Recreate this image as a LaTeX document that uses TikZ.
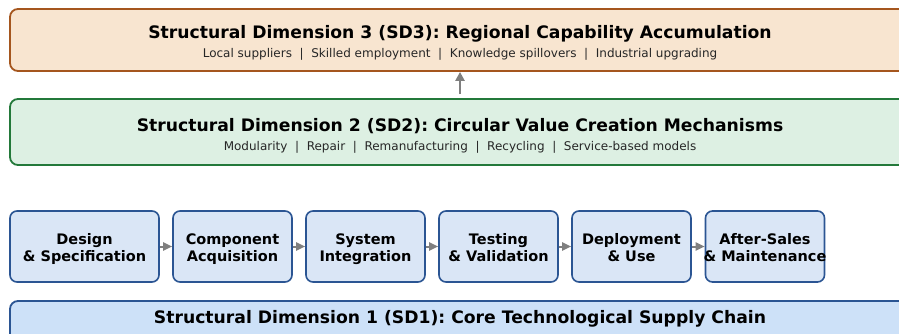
\documentclass[tikz,border=0pt]{standalone}
\usepackage{fontspec}
\setmainfont{DejaVu Sans}
\usetikzlibrary{arrows.meta}
\definecolor{sdthreefill}{HTML}{F8E5D0}
\definecolor{sdthreedraw}{HTML}{A5561E}
\definecolor{sdtwofill}{HTML}{DDF0E3}
\definecolor{sdtwodraw}{HTML}{23793A}
\definecolor{stagefill}{HTML}{DAE6F6}
\definecolor{stagedraw}{HTML}{2B5593}
\definecolor{sdonefill}{HTML}{CDE1F8}
\definecolor{arrowgray}{HTML}{7F7F7F}
\tikzset{
  bigbox/.style={rectangle, rounded corners=8pt, line width=1.8pt, minimum width=900pt, inner sep=0pt},
  stagebox/.style={rectangle, rounded corners=7pt, line width=1.6pt, draw=stagedraw, fill=stagefill,
    minimum height=71pt, inner sep=0pt},
  stagetext/.style={inner sep=0pt, align=center, font=\fontsize{14.5}{16.7}\selectfont\bfseries},
  titletext/.style={font=\fontsize{17.2}{20}\selectfont\bfseries, inner sep=0pt},
  subtext/.style={font=\fontsize{12}{14}\selectfont, inner sep=0pt, text=black!85},
  flow/.style={draw=arrowgray, line width=2.3pt, -{Triangle[length=9pt,width=9pt]}, color=arrowgray},
  stepflow/.style={draw=arrowgray, line width=2pt, -{Triangle[length=9pt,width=8pt]}, color=arrowgray},
}
\begin{document}
\frenchspacing
\begin{tikzpicture}[x=1pt,y=-1pt]
\useasboundingbox (0,0) rectangle (899,334);
\clip (0,0) rectangle (899,334);
% SD3
\node[bigbox, draw=sdthreedraw, fill=sdthreefill, minimum height=62pt] (sd3) at (460,40) {};
\node[titletext] (sd3t) at (460,34) {Structural Dimension 3 (SD3): Regional Capability Accumulation};
\node[subtext] (sd3s) at (460,54) {Local suppliers~~|~~Skilled employment~~|~~Knowledge spillovers~~|~~Industrial upgrading};
% SD2
\node[bigbox, draw=sdtwodraw, fill=sdtwofill, minimum height=66pt] (sd2) at (460,132) {};
\node[titletext] (sd2t) at (460,126) {Structural Dimension 2 (SD2): Circular Value Creation Mechanisms};
\node[subtext] (sd2s) at (460,147) {Modularity~~|~~Repair~~|~~Remanufacturing~~|~~Recycling~~|~~Service-based models};
\draw[flow, shorten <=4pt] (sd2.north) -- (sd3.south);
% stages
\node[stagebox, minimum width=149pt] (s1) at (84.5,246.5) {};
\node[stagebox, minimum width=119pt] (s2) at (232.5,246.5) {};
\node[stagebox, minimum width=119pt] (s3) at (365.5,246.5) {};
\node[stagebox, minimum width=119pt] (s4) at (498.5,246.5) {};
\node[stagebox, minimum width=119pt] (s5) at (631.5,246.5) {};
\node[stagebox, minimum width=119pt] (s6) at (765,246.5) {};
\node[stagetext] (s1t) at (84.5,250) {\strut Design\\\strut\& Specification};
\node[stagetext] (s2t) at (232.5,250) {\strut Component\\\strut Acquisition};
\node[stagetext] (s3t) at (365.5,250) {\strut System\\\strut Integration};
\node[stagetext] (s4t) at (498.5,250) {\strut Testing\\\strut\& Validation};
\node[stagetext] (s5t) at (631.5,250) {\strut Deployment\\\strut\& Use};
\node[stagetext] (s6t) at (765,250) {\strut After-Sales\\\strut\& Maintenance};
\draw[stepflow] (s1.east) -- (s2.west);
\draw[stepflow] (s2.east) -- (s3.west);
\draw[stepflow] (s3.east) -- (s4.west);
\draw[stepflow] (s4.east) -- (s5.west);
\draw[stepflow] (s5.east) -- (s6.west);
% SD1
\node[bigbox, draw=stagedraw, fill=sdonefill, minimum height=60pt] (sd1) at (460,331) {};
\node[titletext] (sd1t) at (460,319) {Structural Dimension 1 (SD1): Core Technological Supply Chain};
\end{tikzpicture}
\end{document}
